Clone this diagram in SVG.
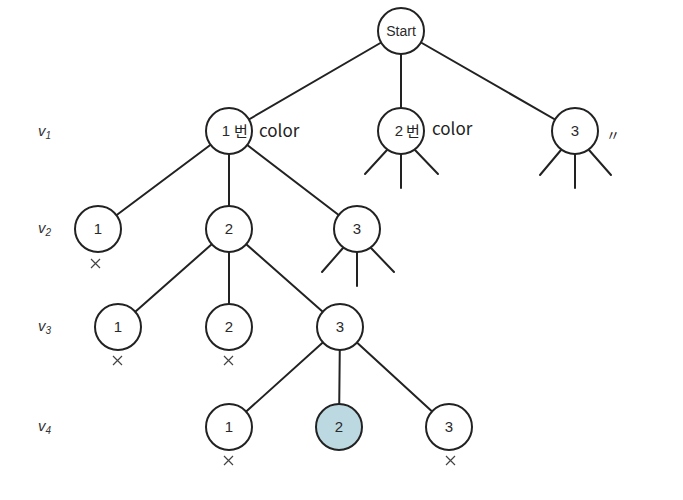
<svg xmlns="http://www.w3.org/2000/svg" width="683" height="500" viewBox="0 0 683 500">
<style>
.e{stroke:#222;stroke-width:2;fill:none;stroke-linecap:round}
.n{fill:#fff;stroke:#222;stroke-width:2}
.t{font-family:"Liberation Sans",Arial,sans-serif;font-size:15px;fill:#2a2a2a;text-anchor:middle}
.v{font-family:"Liberation Sans",Arial,sans-serif;font-size:15px;font-style:italic;fill:#333}
.s{font-family:"Liberation Sans",Arial,sans-serif;font-size:10px;fill:#333}
.x{stroke:#444;stroke-width:1.2}
.h{font-family:"Noto Sans CJK KR",sans-serif;font-size:15px;fill:#222}
</style>
<rect width="683" height="500" fill="#fff"/>
<g id="connectors">
<line class="e" x1="401" y1="31" x2="229" y2="131"/>
<line class="e" x1="401" y1="31" x2="401" y2="131"/>
<line class="e" x1="401" y1="31" x2="575" y2="131"/>
<line class="e" x1="229" y1="131" x2="98" y2="229"/>
<line class="e" x1="229" y1="131" x2="229" y2="229"/>
<line class="e" x1="229" y1="131" x2="357" y2="229"/>
<line class="e" x1="229" y1="229" x2="118" y2="327"/>
<line class="e" x1="229" y1="229" x2="229" y2="327"/>
<line class="e" x1="229" y1="229" x2="340" y2="327"/>
<line class="e" x1="340" y1="327" x2="229" y2="427"/>
<line class="e" x1="340" y1="327" x2="339" y2="427"/>
<line class="e" x1="340" y1="327" x2="449" y2="427"/>
<line class="e" x1="387" y1="150" x2="365" y2="174"/>
<line class="e" x1="401" y1="154" x2="401" y2="188"/>
<line class="e" x1="415" y1="150" x2="438" y2="174"/>
<line class="e" x1="561" y1="150" x2="540" y2="175"/>
<line class="e" x1="575" y1="154" x2="575" y2="188"/>
<line class="e" x1="589" y1="150" x2="611" y2="175"/>
<line class="e" x1="343" y1="248" x2="322" y2="272"/>
<line class="e" x1="357" y1="252" x2="357" y2="286"/>
<line class="e" x1="371" y1="248" x2="394" y2="272"/>
</g>
<g id="levels">
<text class="v" x="38" y="136">v<tspan class="s" dy="3">1</tspan></text>
<text class="v" x="38" y="233">v<tspan class="s" dy="3">2</tspan></text>
<text class="v" x="38" y="331">v<tspan class="s" dy="3">3</tspan></text>
<text class="v" x="38" y="431">v<tspan class="s" dy="3">4</tspan></text>
</g>
<g id="start"><circle class="n" cx="401" cy="31" r="23"/><text class="t" x="401" y="36" style="font-size:14px">Start</text></g>
<g id="v1-1"><circle class="n" cx="229" cy="131" r="23"/><text class="t" x="226" y="136">1</text></g>
<g id="v1-2"><circle class="n" cx="401" cy="131" r="23"/><text class="t" x="399" y="136">2</text></g>
<g id="v1-3"><circle class="n" cx="575" cy="131" r="23"/><text class="t" x="575" y="136">3</text></g>
<g id="v2-1"><circle class="n" cx="98" cy="229" r="23"/><text class="t" x="98" y="234">1</text><path class="x" d="M91 259l9 9M100 259l-9 9"/></g>
<g id="v2-2"><circle class="n" cx="229" cy="229" r="23"/><text class="t" x="229" y="234">2</text></g>
<g id="v2-3"><circle class="n" cx="357" cy="229" r="23"/><text class="t" x="357" y="234">3</text></g>
<g id="v3-1"><circle class="n" cx="118" cy="327" r="23"/><text class="t" x="118" y="332">1</text><path class="x" d="M113 356l9 9M122 356l-9 9"/></g>
<g id="v3-2"><circle class="n" cx="229" cy="327" r="23"/><text class="t" x="229" y="332">2</text><path class="x" d="M224 356l9 9M233 356l-9 9"/></g>
<g id="v3-3"><circle class="n" cx="340" cy="327" r="23"/><text class="t" x="340" y="332">3</text></g>
<g id="v4-1"><circle class="n" cx="229" cy="427" r="23"/><text class="t" x="229" y="432">1</text><path class="x" d="M224 456l9 9M233 456l-9 9"/></g>
<g id="v4-2"><circle class="n" cx="339" cy="427" r="23" style="fill:#bcd9e2"/><text class="t" x="339" y="432">2</text></g>
<g id="v4-3"><circle class="n" cx="449" cy="427" r="23"/><text class="t" x="449" y="432">3</text><path class="x" d="M446 456l9 9M455 456l-9 9"/></g>
<g id="notes">
<text class="h" x="234" y="137">번</text>
<text class="h" x="259" y="137" style="font-size:17px">color</text>
<text class="h" x="406" y="137">번</text>
<text class="h" x="432" y="135" style="font-size:17px">color</text>
<text class="h" x="606" y="140" style="font-size:14px">〃</text>
</g>
</svg>
